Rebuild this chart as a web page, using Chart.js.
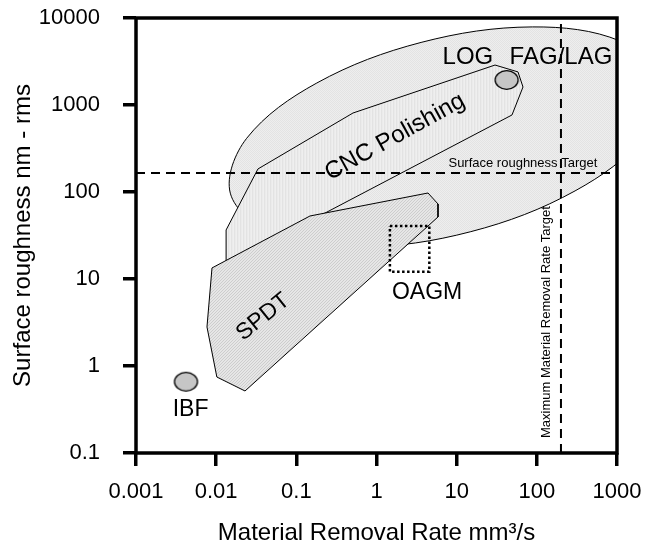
<!DOCTYPE html>
<html>
<head>
<meta charset="utf-8">
<script src="https://cdn.jsdelivr.net/npm/chart.js@4.4.1/dist/chart.umd.min.js"></script>
<style>
  html, body { margin: 0; padding: 0; background: #fff; }
  #wrap { width: 645px; height: 550px; }
</style>
</head>
<body>
<div id="wrap"><canvas id="chart" width="645" height="550"></canvas></div>
<script>
// ---- axis ticks ----
const xTicks = [0.001, 0.01, 0.1, 1, 10, 100, 1000];
const xTickLabels = ['0.001', '0.01', '0.1', '1', '10', '100', '1000'];
const yTicks = [0.1, 1, 10, 100, 1000, 10000];
const yTickLabels = ['0.1', '1', '10', '100', '1000', '10000'];

// ---- targets (as placed in the figure) ----
const roughnessTarget = 165;  // nm rms
const removalTarget = 200;    // mm3/s

// ---- FAG/LAG envelope, outline read round the ellipse ----
const fagX = [3600, 1100, 88, 3.6, 0.18, 0.024, 0.015, 0.049, 0.61, 15, 300, 2230, 3600];
const fagY = [1900, 5430, 7900, 5240, 1790, 414, 97, 34, 23.3, 35, 103, 444, 1900];

// ---- CNC polishing region ----
const cncX = [0.0133, 0.0133, 0.0332, 0.509, 30.1, 58.2, 67.2, 49.0, 0.0133];
const cncY = [14.5, 36.6, 184, 809, 2880, 2400, 1610, 768, 14.5];

// ---- SPDT region ----
const spdtX = [0.00887, 0.148, 4.39, 5.85, 5.85, 0.0229, 0.0102, 0.00768, 0.00887];
const spdtY = [13.4, 53, 97.4, 72.8, 51.6, 0.516, 0.747, 2.81, 13.4];

// ---- OAGM box ----
const oagmX = [1.47, 4.56, 4.56, 1.47, 1.47];
const oagmY = [40.7, 40.7, 12.1, 12.1, 40.7];

// ---- single process spots ----
const spotNames = ['IBF', 'LOG'];
const spotX = [0.0042, 42];
const spotY = [0.66, 1940];

// ---- region names ----
const labelText = ['FAG/LAG', 'LOG', 'CNC Polishing', 'SPDT', 'OAGM', 'IBF'];
const labelX = [200, 13.8, 1.70, 0.0384, 4.27, 0.0048];
const labelY = [3565, 3565, 429, 3.66, 6.9, 0.312];

const pts = (xs, ys) => xs.map((x, i) => ({x: x, y: ys[i]}));

const canvas = document.getElementById('chart');
const mainCtx = canvas.getContext('2d');

function makePattern(w, h, draw) {
  const c = document.createElement('canvas');
  c.width = w; c.height = h;
  draw(c.getContext('2d'));
  return mainCtx.createPattern(c, 'repeat');
}

// fine textures like the original figure
const fagFill = makePattern(2, 2, g => {
  g.fillStyle = '#eeeeee'; g.fillRect(0, 0, 2, 2);
  g.fillStyle = '#e3e3e3'; g.fillRect(0, 0, 1, 1); g.fillRect(1, 1, 1, 1);
});
const cncFill = makePattern(3, 1, g => {
  g.fillStyle = '#e3e3e3'; g.fillRect(0, 0, 1, 1);
  g.fillStyle = '#ebebeb'; g.fillRect(1, 0, 1, 1);
  g.fillStyle = '#efefef'; g.fillRect(2, 0, 1, 1);
});
const spdtFill = makePattern(3, 3, g => {
  g.fillStyle = '#e6e6e6'; g.fillRect(0, 0, 3, 3);
  g.fillStyle = '#cdcdcd';
  g.fillRect(2, 0, 1, 1); g.fillRect(1, 1, 1, 1); g.fillRect(0, 2, 1, 1);
});

function spotMarker() {
  const c = document.createElement('canvas');
  c.width = 27; c.height = 22;
  const g = c.getContext('2d');
  g.beginPath();
  g.ellipse(13.5, 11, 11.5, 9.3, 0, 0, Math.PI * 2);
  g.fillStyle = '#c6c6c6';
  g.fill();
  g.lineWidth = 1.3;
  g.strokeStyle = '#000';
  g.stroke();
  return c;
}

// label styles (size px, rotation deg)
const labelStyle = [
  {size: 24, rot: 0}, {size: 24, rot: 0}, {size: 24, rot: -29},
  {size: 23, rot: -39}, {size: 23, rot: 0}, {size: 23, rot: 0}
];

const annotate = {
  id: 'annotate',
  afterDatasetsDraw(chart) {
    const {ctx, chartArea: a, scales: {x, y}} = chart;
    ctx.save();
    ctx.lineWidth = 3.5;
    ctx.strokeStyle = '#000';
    ctx.strokeRect(a.left, a.top, a.right - a.left, a.bottom - a.top);

    ctx.fillStyle = '#000';
    ctx.textAlign = 'center';
    ctx.textBaseline = 'middle';
    labelText.forEach((t, i) => {
      const st = labelStyle[i];
      ctx.save();
      ctx.translate(x.getPixelForValue(labelX[i]), y.getPixelForValue(labelY[i]));
      ctx.rotate(st.rot * Math.PI / 180);
      ctx.font = st.size + "px 'Liberation Sans', Arial, sans-serif";
      ctx.fillText(t, 0, 0);
      ctx.restore();
    });

    ctx.font = "13px 'Liberation Sans', Arial, sans-serif";
    ctx.fillText('Surface roughness Target', x.getPixelForValue(67), y.getPixelForValue(214));
    ctx.save();
    ctx.translate(x.getPixelForValue(130), y.getPixelForValue(3.2));
    ctx.rotate(-Math.PI / 2);
    ctx.fillText('Maximum Material Removal Rate Target', 0, 0);
    ctx.restore();
    ctx.restore();
  }
};

Chart.defaults.font.family = "'Liberation Sans', Arial, sans-serif";
Chart.defaults.color = '#000';

const shape = (data, fill, order, tension) => ({
  data: data,
  showLine: true,
  fill: 'shape',
  backgroundColor: fill,
  borderColor: '#000',
  borderWidth: 1,
  pointRadius: 0,
  tension: tension || 0,
  capBezierPoints: false,
  order: order
});

// empty spacer axes keep the plot frame where the figure has it
const spacer = (pos, size) => ({
  type: 'linear',
  position: pos,
  display: true,
  grid: { display: false },
  border: { display: false },
  ticks: { display: false },
  afterFit: s => { if (pos === 'top') s.height = size; else s.width = size; }
});

new Chart(canvas, {
  type: 'scatter',
  data: {
    datasets: [
      shape(pts(fagX, fagY), fagFill, 10, 0.35),
      shape(pts(cncX, cncY), cncFill, 9),
      shape(pts(spdtX, spdtY), spdtFill, 8),
      {
        data: pts(oagmX, oagmY),
        showLine: true,
        borderColor: '#000',
        borderWidth: 2.5,
        borderDash: [2.5, 2.5],
        pointRadius: 0,
        order: 6
      },
      {
        data: pts(spotX, spotY),
        pointStyle: spotMarker(),
        pointRadius: 11,
        order: 5
      },
      {
        data: [{x: xTicks[0], y: roughnessTarget}, {x: xTicks[xTicks.length - 1], y: roughnessTarget}],
        showLine: true,
        borderColor: '#000',
        borderWidth: 2,
        borderDash: [9, 6],
        pointRadius: 0,
        order: 3
      },
      {
        data: [{x: removalTarget, y: yTicks[0]}, {x: removalTarget, y: yTicks[yTicks.length - 1]}],
        showLine: true,
        borderColor: '#000',
        borderWidth: 2,
        borderDash: [9, 6],
        pointRadius: 0,
        order: 3
      }
    ]
  },
  options: {
    responsive: false,
    animation: false,
    events: [],
    layout: { padding: 0 },
    plugins: { legend: { display: false }, tooltip: { enabled: false } },
    scales: {
      x: {
        type: 'logarithmic',
        position: 'bottom',
        min: 0.001,
        max: 1000,
        afterBuildTicks: s => { s.ticks = xTicks.map(v => ({value: v})); },
        afterFit: s => { s.height = 97; s.paddingLeft = 0; s.paddingRight = 0; },
        ticks: {
          autoSkip: false, maxRotation: 0, padding: 13,
          font: { size: 22 },
          callback: (v, i) => xTickLabels[i]
        },
        grid: { drawOnChartArea: false, drawTicks: true, tickLength: 13, lineWidth: 3.5, tickWidth: 3.5, tickColor: '#000' },
        border: { display: false },
        title: { display: true, text: 'Material Removal Rate mm³/s', font: { size: 24 }, padding: { top: 0, bottom: 2 } }
      },
      y: {
        type: 'logarithmic',
        position: 'left',
        min: 0.1,
        max: 10000,
        afterBuildTicks: s => { s.ticks = yTicks.map(v => ({value: v})); },
        afterFit: s => { s.width = 136; s.paddingTop = 0; s.paddingBottom = 0; },
        ticks: {
          autoSkip: false, padding: 23,
          font: { size: 22 },
          callback: (v, i) => yTickLabels[i]
        },
        grid: { drawOnChartArea: false, drawTicks: true, tickLength: 13, lineWidth: 3.5, tickWidth: 3.5, tickColor: '#000' },
        border: { display: false },
        title: { display: true, text: 'Surface roughness nm - rms', font: { size: 24 }, padding: { top: 9, bottom: 0 } }
      },
      xTop: spacer('top', 18),
      yRight: spacer('right', 28)
    }
  },
  plugins: [annotate]
});
</script>
</body>
</html>
